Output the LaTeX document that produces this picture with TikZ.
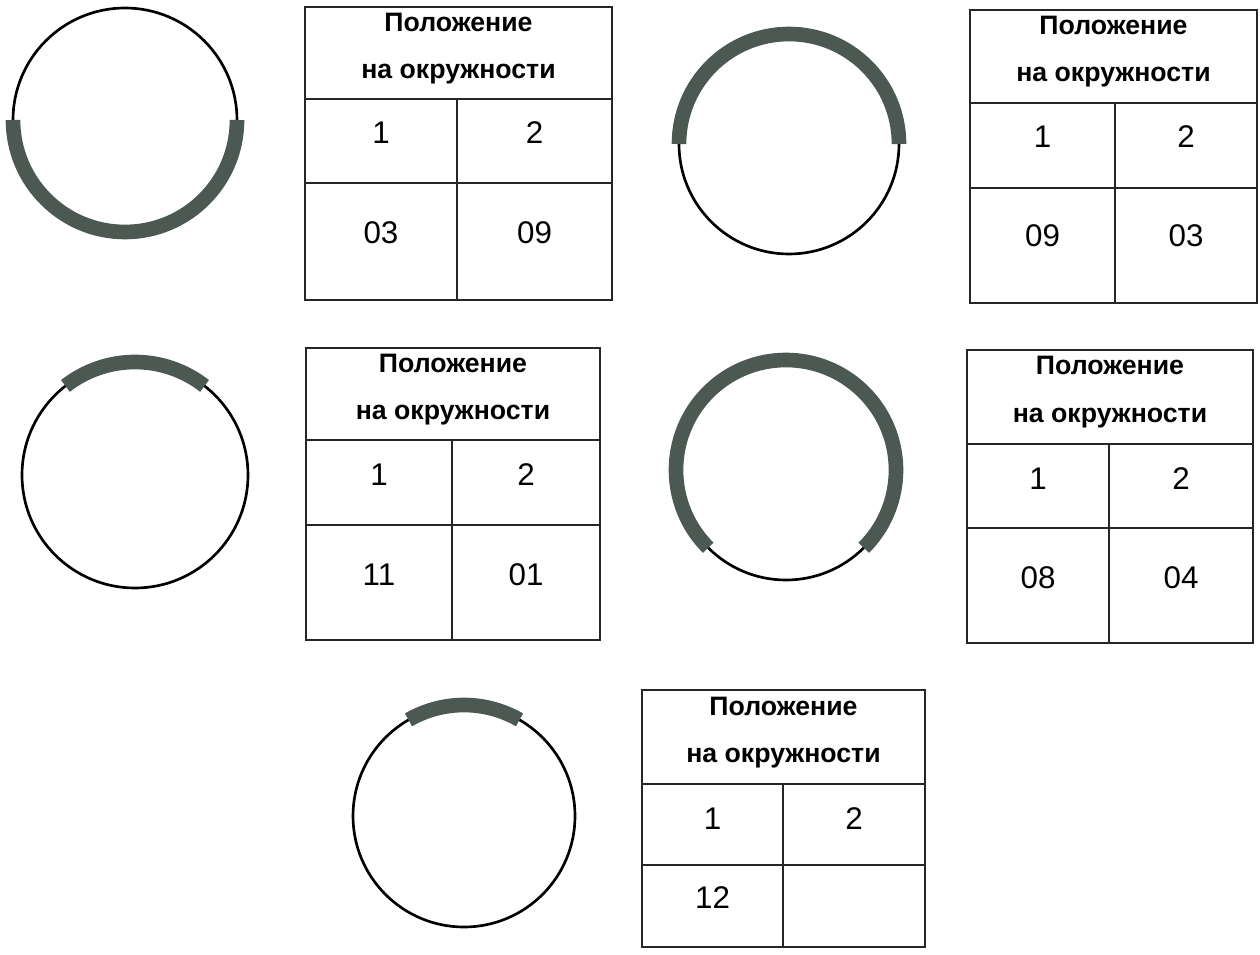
\documentclass[tikz,border=0pt]{standalone}
\usepackage{fontspec}
\setmainfont{Liberation Sans}
\definecolor{band}{RGB}{76,88,82}
\tikzset{
  ring/.style={draw=black,line width=2pt},
  bandarc/.style={draw=band,line width=11pt,line cap=butt},
  grid/.style={draw=black!85,line width=1.1pt},
  headtxt/.style={anchor=base,inner sep=0pt,font=\fontsize{20}{22}\selectfont\bfseries},
  toptxt/.style={anchor=base,inner sep=0pt,font=\fontsize{23.5}{26}\selectfont},
  bottxt/.style={anchor=base,inner sep=0pt,font=\fontsize{23.5}{26}\selectfont}
}
% #1 prefix, #2 left, #3 top, #4 right, #5 header bottom, #6 row bottom, #7 bottom, #8 column, #9 row2 baseline offset
\newcommand\postable[9]{%
  \draw[grid] (#2,-#3) rectangle (#4,-#7);
  \draw[grid] (#2,-#5) -- (#4,-#5);
  \draw[grid] (#2,-#6) -- (#4,-#6);
  \draw[grid] (#8,-#5) -- (#8,-#7);
  \node[headtxt] (#1h1) at ({(#2+#4)/2},-#3-25) {Положение};
  \node[headtxt] (#1h2) at ({(#2+#4)/2},-#3-72) {на окружности};
  \node[toptxt] (#1a) at ({(#2+#8)/2},-#5-45) {1};
  \node[toptxt] (#1b) at ({(#8+#4)/2},-#5-45) {2};
  \node[bottxt] (#1c) at ({(#2+#8)/2},-#6-#9) {\va};
  \node[bottxt] (#1d) at ({(#8+#4)/2},-#6-#9) {\vb};
}
\newcommand\posring[5]{%
  \draw[ring] (#1,-#2) circle[radius=#3];
  \draw[bandarc] ([shift={(#4:#3)}]#1,-#2) arc[start angle=#4,end angle=#5,radius=#3];
}
\begin{document}
\begin{tikzpicture}[x=0.75pt,y=0.75pt]
\useasboundingbox[fill=white] (0,0) rectangle (1260,-955);
% circles
\posring{125}{120}{112}{180}{360}
\posring{789}{144}{110}{0}{180}
\posring{135}{475}{113}{52}{128}
\posring{786}{470}{110}{-45}{225}
\posring{464}{816}{111}{60}{120}
% tables
\def\va{03}\def\vb{09}
\postable{t1}{305}{7}{612}{99}{183}{300}{457}{61}
\def\va{09}\def\vb{03}
\postable{t2}{970}{10}{1257}{103}{188}{303}{1115}{59}
\def\va{11}\def\vb{01}
\postable{t3}{306}{348}{600}{440}{525}{640}{452}{60}
\def\va{08}\def\vb{04}
\postable{t4}{967}{350}{1253}{444}{528}{643}{1109}{60}
\def\va{12}\def\vb{}
\postable{t5}{642}{690}{925}{784}{865}{947}{783}{43}
\end{tikzpicture}
\end{document}
